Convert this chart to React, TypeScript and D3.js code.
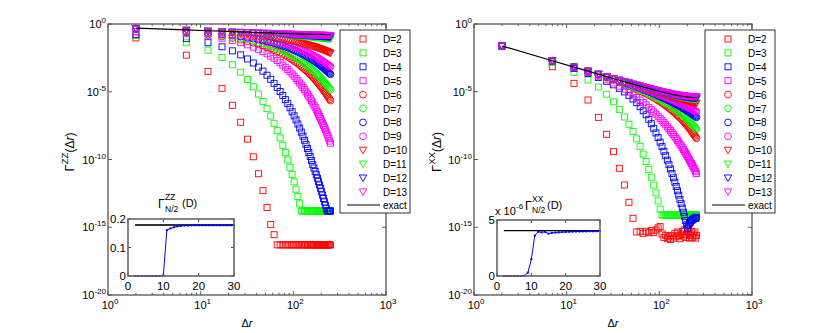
import React from 'react';
import * as d3 from 'd3';

// separation Delta r of the sampled points
const dr = [2, 7, 12, 17, 22, 27, 32, 37, 42, 47, 52, 57, 62, 67, 72, 77, 82, 87, 92, 97, 102, 107, 112, 117, 122, 127, 132, 137, 142, 147, 152, 157, 162, 167, 172, 177, 182, 187, 192, 197, 202, 207, 212, 217, 222, 227, 232, 237, 242, 247, 252];

// all correlation values below are log10 of Gamma
const zzExact = [-0.30, -0.44, -0.50, -0.53, -0.56, -0.58, -0.60, -0.62, -0.63, -0.64, -0.65, -0.66, -0.67, -0.68, -0.69, -0.69, -0.70, -0.70, -0.71, -0.72, -0.72, -0.72, -0.73, -0.73, -0.74, -0.74, -0.74, -0.75, -0.75, -0.75, -0.75, -0.76, -0.76, -0.76, -0.76, -0.77, -0.77, -0.77, -0.77, -0.77, -0.77, -0.77, -0.77, -0.78, -0.78, -0.78, -0.78, -0.78, -0.78, -0.78, -0.78];
const xxExact = [-1.62, -2.71, -3.18, -3.48, -3.70, -3.88, -4.02, -4.15, -4.26, -4.35, -4.44, -4.51, -4.58, -4.65, -4.70, -4.76, -4.81, -4.86, -4.90, -4.94, -4.98, -5.01, -5.05, -5.08, -5.11, -5.14, -5.16, -5.19, -5.21, -5.23, -5.25, -5.27, -5.29, -5.31, -5.32, -5.34, -5.35, -5.36, -5.37, -5.38, -5.39, -5.40, -5.41, -5.42, -5.42, -5.43, -5.43, -5.44, -5.44, -5.44, -5.44];

const zzD2 = [-1.03, -2.30, -3.50, -4.75, -6.00, -7.25, -8.50, -9.80, -11.05, -12.30, -13.55, -14.80, -15.55, -16.3, -16.3, -16.3, -16.3, -16.3, -16.3, -16.3, -16.3, -16.3, -16.3, -16.3, -16.3, -16.3, -16.3, -16.3, -16.3, -16.3, -16.3, -16.3, -16.3, -16.3, -16.3, -16.3, -16.3, -16.3, -16.3, -16.3, -16.3, -16.3, -16.3, -16.3, -16.3, -16.3, -16.3, -16.3, -16.3, -16.3, -16.3];
const zzD3 = [-0.85, -1.39, -1.93, -2.47, -3.01, -3.55, -4.09, -4.63, -5.17, -5.71, -6.25, -6.79, -7.33, -7.87, -8.41, -8.95, -9.49, -10.03, -10.57, -11.11, -11.65, -12.19, -12.73, -13.27, -13.8, -13.8, -13.8, -13.8, -13.8, -13.8, -13.8, -13.8, -13.8, -13.8, -13.8, -13.8, -13.8, -13.8, -13.8, -13.8, -13.8, -13.8, -13.8, -13.8, -13.8, -13.8, -13.8, -13.8, -13.8, -13.8, -13.8];
const zzD4 = [-0.78, -1.08, -1.38, -1.68, -1.98, -2.28, -2.58, -2.88, -3.18, -3.48, -3.78, -4.08, -4.38, -4.68, -4.98, -5.28, -5.58, -5.88, -6.18, -6.48, -6.78, -7.08, -7.38, -7.68, -7.98, -8.28, -8.58, -8.88, -9.18, -9.48, -9.78, -10.08, -10.38, -10.63, -10.88, -11.13, -11.38, -11.63, -11.88, -12.13, -12.38, -12.63, -12.88, -13.13, -13.38, -13.63, -13.8, -13.8, -13.8, -13.8, -13.8];
const zzD5 = [-0.55, -0.72, -0.88, -1.05, -1.21, -1.38, -1.54, -1.71, -1.87, -2.04, -2.20, -2.37, -2.53, -2.70, -2.86, -3.03, -3.19, -3.36, -3.52, -3.69, -3.85, -4.02, -4.18, -4.35, -4.51, -4.68, -4.84, -5.01, -5.17, -5.34, -5.50, -5.67, -5.83, -6.00, -6.16, -6.33, -6.49, -6.66, -6.82, -6.99, -7.15, -7.32, -7.48, -7.65, -7.81, -7.98, -8.14, -8.31, -8.47, -8.64, -8.80];
const zzD6 = [-0.40, -0.63, -0.79, -0.92, -1.04, -1.16, -1.27, -1.38, -1.49, -1.60, -1.71, -1.81, -1.92, -2.02, -2.12, -2.22, -2.33, -2.43, -2.53, -2.63, -2.73, -2.83, -2.93, -3.03, -3.13, -3.23, -3.33, -3.42, -3.52, -3.62, -3.72, -3.82, -3.92, -4.01, -4.11, -4.21, -4.30, -4.40, -4.50, -4.60, -4.69, -4.79, -4.89, -4.98, -5.08, -5.17, -5.27, -5.37, -5.46, -5.56, -5.65];
const zzD7 = [-0.38, -0.60, -0.74, -0.85, -0.96, -1.06, -1.16, -1.26, -1.35, -1.44, -1.53, -1.62, -1.71, -1.80, -1.89, -1.97, -2.06, -2.14, -2.23, -2.32, -2.40, -2.48, -2.57, -2.65, -2.74, -2.82, -2.90, -2.99, -3.07, -3.15, -3.23, -3.32, -3.40, -3.48, -3.56, -3.65, -3.73, -3.81, -3.89, -3.97, -4.05, -4.13, -4.21, -4.30, -4.38, -4.46, -4.54, -4.62, -4.70, -4.78, -4.86];
const zzD8 = [-0.36, -0.55, -0.67, -0.76, -0.85, -0.93, -1.01, -1.08, -1.15, -1.22, -1.29, -1.35, -1.42, -1.49, -1.55, -1.61, -1.68, -1.74, -1.81, -1.87, -1.93, -1.99, -2.05, -2.11, -2.18, -2.24, -2.30, -2.36, -2.42, -2.48, -2.54, -2.60, -2.66, -2.72, -2.78, -2.84, -2.90, -2.96, -3.01, -3.07, -3.13, -3.19, -3.25, -3.31, -3.37, -3.42, -3.48, -3.54, -3.60, -3.66, -3.71];
const zzD9 = [-0.35, -0.53, -0.64, -0.72, -0.80, -0.86, -0.93, -0.99, -1.05, -1.11, -1.17, -1.22, -1.28, -1.33, -1.39, -1.44, -1.49, -1.54, -1.60, -1.65, -1.70, -1.75, -1.80, -1.85, -1.90, -1.95, -2.00, -2.05, -2.10, -2.15, -2.20, -2.25, -2.30, -2.35, -2.39, -2.44, -2.49, -2.54, -2.59, -2.63, -2.68, -2.73, -2.78, -2.82, -2.87, -2.92, -2.97, -3.01, -3.06, -3.11, -3.15];
const zzD10 = [-0.33, -0.49, -0.58, -0.64, -0.70, -0.75, -0.79, -0.84, -0.88, -0.91, -0.95, -0.99, -1.02, -1.06, -1.09, -1.13, -1.16, -1.19, -1.23, -1.26, -1.29, -1.32, -1.35, -1.38, -1.41, -1.45, -1.48, -1.51, -1.54, -1.57, -1.59, -1.62, -1.65, -1.68, -1.71, -1.74, -1.77, -1.80, -1.83, -1.85, -1.88, -1.91, -1.94, -1.97, -1.99, -2.02, -2.05, -2.08, -2.10, -2.13, -2.16];
const zzD11 = [-0.33, -0.47, -0.54, -0.58, -0.61, -0.64, -0.67, -0.69, -0.71, -0.73, -0.74, -0.76, -0.77, -0.79, -0.80, -0.81, -0.83, -0.84, -0.85, -0.86, -0.87, -0.88, -0.89, -0.90, -0.91, -0.92, -0.93, -0.94, -0.95, -0.96, -0.96, -0.97, -0.98, -0.99, -1.00, -1.01, -1.01, -1.02, -1.03, -1.04, -1.04, -1.05, -1.06, -1.06, -1.07, -1.08, -1.08, -1.09, -1.10, -1.10, -1.11];
const zzD12 = [-0.33, -0.46, -0.53, -0.57, -0.60, -0.62, -0.64, -0.66, -0.68, -0.69, -0.71, -0.72, -0.73, -0.74, -0.75, -0.76, -0.77, -0.78, -0.79, -0.80, -0.81, -0.81, -0.82, -0.83, -0.83, -0.84, -0.85, -0.85, -0.86, -0.86, -0.87, -0.87, -0.88, -0.89, -0.89, -0.90, -0.90, -0.90, -0.91, -0.91, -0.92, -0.92, -0.93, -0.93, -0.93, -0.94, -0.94, -0.94, -0.95, -0.95, -0.95];
const zzD13 = [-0.32, -0.46, -0.52, -0.56, -0.58, -0.61, -0.63, -0.64, -0.66, -0.67, -0.68, -0.69, -0.70, -0.71, -0.72, -0.73, -0.74, -0.74, -0.75, -0.75, -0.76, -0.77, -0.77, -0.78, -0.78, -0.79, -0.79, -0.79, -0.80, -0.80, -0.80, -0.81, -0.81, -0.81, -0.82, -0.82, -0.82, -0.83, -0.83, -0.83, -0.83, -0.83, -0.84, -0.84, -0.84, -0.84, -0.84, -0.84, -0.85, -0.85, -0.85];

const xxD2 = [-1.65, -3.15, -4.38, -5.61, -6.89, -8.14, -9.42, -10.65, -11.88, -13.16, -14.34, -15.35, -15.30, -15.45, -15.30, -15.40, -15.25, -15.40, -15.20, -15.05, -14.95, -15.50, -15.75, -15.60, -15.85, -15.70, -15.90, -15.60, -15.80, -15.45, -15.70, -15.35, -15.60, -15.85, -15.50, -15.30, -15.65, -15.20, -15.75, -15.55, -15.10, -15.40, -15.80, -15.60, -15.30, -15.75, -15.50, -15.65, -15.35, -15.80, -15.60];
const xxD3 = [-1.65, -2.86, -3.58, -4.13, -4.65, -5.18, -5.74, -6.30, -6.86, -7.40, -7.94, -8.48, -9.03, -9.60, -10.15, -10.73, -11.31, -11.89, -12.47, -13.06, -13.66, -14.1, -14.1, -14.1, -14.1, -14.1, -14.1, -14.1, -14.1, -14.1, -14.1, -14.1, -14.1, -14.1, -14.1, -14.1, -14.1, -14.1, -14.1, -14.1, -14.1, -14.1, -14.1, -14.1, -14.1, -14.1, -14.1, -14.1, -14.1, -14.1, -14.1];
const xxD4 = [-1.63, -2.76, -3.28, -3.65, -3.95, -4.23, -4.49, -4.75, -5.01, -5.27, -5.54, -5.81, -6.10, -6.40, -6.70, -7.03, -7.36, -7.70, -8.04, -8.38, -8.72, -9.05, -9.39, -9.72, -10.05, -10.38, -10.70, -11.03, -11.35, -11.67, -11.99, -12.31, -12.63, -12.95, -13.26, -13.58, -13.89, -14.20, -14.51, -14.82, -15.05, -14.85, -14.70, -14.60, -14.50, -14.45, -14.40, -14.35, -14.30, -14.35, -14.25];
const xxD5 = [-1.62, -2.73, -3.23, -3.58, -3.86, -4.12, -4.35, -4.59, -4.81, -5.02, -5.23, -5.42, -5.61, -5.80, -5.97, -6.15, -6.32, -6.49, -6.65, -6.81, -6.97, -7.12, -7.28, -7.43, -7.58, -7.73, -7.87, -8.02, -8.16, -8.30, -8.44, -8.58, -8.72, -8.86, -8.99, -9.13, -9.26, -9.39, -9.52, -9.65, -9.78, -9.91, -10.04, -10.17, -10.29, -10.42, -10.54, -10.67, -10.79, -10.91, -11.03];
const xxD6 = [-1.62, -2.72, -3.20, -3.52, -3.77, -3.97, -4.15, -4.30, -4.45, -4.58, -4.70, -4.82, -4.94, -5.04, -5.15, -5.25, -5.35, -5.45, -5.55, -5.64, -5.74, -5.83, -5.92, -6.02, -6.11, -6.20, -6.29, -6.38, -6.47, -6.56, -6.65, -6.74, -6.83, -6.92, -7.00, -7.09, -7.18, -7.27, -7.36, -7.45, -7.54, -7.63, -7.72, -7.81, -7.90, -7.99, -8.08, -8.17, -8.26, -8.35, -8.44];
const xxD7 = [-1.62, -2.71, -3.19, -3.51, -3.75, -3.95, -4.12, -4.27, -4.40, -4.53, -4.64, -4.75, -4.86, -4.96, -5.05, -5.14, -5.23, -5.32, -5.40, -5.49, -5.57, -5.65, -5.73, -5.81, -5.88, -5.96, -6.04, -6.11, -6.19, -6.26, -6.34, -6.41, -6.48, -6.56, -6.63, -6.70, -6.77, -6.85, -6.92, -6.99, -7.06, -7.13, -7.20, -7.28, -7.35, -7.42, -7.49, -7.56, -7.63, -7.70, -7.77];
const xxD8 = [-1.62, -2.71, -3.19, -3.50, -3.73, -3.92, -4.08, -4.22, -4.35, -4.46, -4.56, -4.66, -4.75, -4.84, -4.92, -5.00, -5.07, -5.14, -5.21, -5.28, -5.35, -5.41, -5.47, -5.53, -5.59, -5.65, -5.71, -5.76, -5.82, -5.87, -5.93, -5.98, -6.03, -6.08, -6.13, -6.19, -6.24, -6.29, -6.33, -6.38, -6.43, -6.48, -6.53, -6.57, -6.62, -6.67, -6.71, -6.76, -6.80, -6.85, -6.89];
const xxD9 = [-1.62, -2.71, -3.18, -3.49, -3.72, -3.91, -4.07, -4.20, -4.32, -4.43, -4.53, -4.62, -4.70, -4.78, -4.86, -4.93, -5.00, -5.06, -5.12, -5.18, -5.24, -5.29, -5.35, -5.40, -5.45, -5.50, -5.55, -5.60, -5.64, -5.69, -5.73, -5.77, -5.82, -5.86, -5.90, -5.94, -5.98, -6.02, -6.06, -6.09, -6.13, -6.17, -6.20, -6.24, -6.27, -6.31, -6.34, -6.38, -6.41, -6.44, -6.47];
const xxD10 = [-1.62, -2.71, -3.18, -3.48, -3.71, -3.89, -4.04, -4.17, -4.28, -4.38, -4.47, -4.55, -4.63, -4.70, -4.77, -4.83, -4.88, -4.94, -4.99, -5.04, -5.08, -5.13, -5.17, -5.21, -5.24, -5.28, -5.32, -5.35, -5.38, -5.41, -5.44, -5.47, -5.50, -5.53, -5.55, -5.58, -5.60, -5.62, -5.65, -5.67, -5.69, -5.71, -5.73, -5.74, -5.76, -5.78, -5.80, -5.81, -5.83, -5.84, -5.85];
const xxD11 = [-1.62, -2.71, -3.18, -3.48, -3.70, -3.88, -4.03, -4.15, -4.26, -4.36, -4.45, -4.52, -4.60, -4.66, -4.72, -4.78, -4.83, -4.88, -4.93, -4.97, -5.01, -5.05, -5.08, -5.12, -5.15, -5.18, -5.21, -5.23, -5.26, -5.29, -5.31, -5.33, -5.35, -5.37, -5.39, -5.41, -5.42, -5.44, -5.45, -5.47, -5.48, -5.49, -5.50, -5.51, -5.52, -5.53, -5.54, -5.55, -5.55, -5.56, -5.56];
const xxD12 = [-1.62, -2.71, -3.18, -3.48, -3.70, -3.88, -4.02, -4.15, -4.26, -4.35, -4.44, -4.52, -4.59, -4.65, -4.71, -4.76, -4.81, -4.86, -4.91, -4.95, -4.99, -5.02, -5.06, -5.09, -5.12, -5.15, -5.17, -5.20, -5.22, -5.25, -5.27, -5.29, -5.30, -5.32, -5.34, -5.35, -5.37, -5.38, -5.39, -5.40, -5.42, -5.42, -5.43, -5.44, -5.45, -5.45, -5.46, -5.46, -5.47, -5.47, -5.47];
const xxD13 = [-1.62, -2.71, -3.18, -3.48, -3.70, -3.87, -4.02, -4.14, -4.25, -4.34, -4.43, -4.50, -4.57, -4.64, -4.69, -4.75, -4.79, -4.84, -4.88, -4.92, -4.96, -4.99, -5.02, -5.05, -5.08, -5.11, -5.13, -5.16, -5.18, -5.20, -5.21, -5.23, -5.25, -5.26, -5.28, -5.29, -5.30, -5.31, -5.32, -5.33, -5.34, -5.34, -5.35, -5.35, -5.36, -5.36, -5.36, -5.36, -5.36, -5.36, -5.36];

const bondDims = [2, 3, 4, 5, 6, 7, 8, 9, 10, 11, 12, 13];
const zzSeries = [zzD2, zzD3, zzD4, zzD5, zzD6, zzD7, zzD8, zzD9, zzD10, zzD11, zzD12, zzD13];
const xxSeries = [xxD2, xxD3, xxD4, xxD5, xxD6, xxD7, xxD8, xxD9, xxD10, xxD11, xxD12, xxD13];

// insets: Gamma at N/2 against bond dimension
const insetD = [2, 3, 4, 5, 6, 7, 8, 9, 10, 11, 12, 13, 14, 15, 16, 17, 18, 19, 20, 21, 22, 23, 24, 25, 26, 27, 28, 29, 30];
const zzHalf = [0, 0, 0, 0, 0, 0, 0, 0, 0.002, 0.161, 0.167, 0.171, 0.174, 0.176, 0.177, 0.177, 0.178, 0.178, 0.178, 0.178, 0.178, 0.178, 0.178, 0.178, 0.178, 0.178, 0.178, 0.178, 0.178];
const zzHalfExact = 0.179;
const xxHalf = [0, 0, 0, 0, 0, 0, 0.02, 0.3, 1.5, 3.6, 3.95, 3.9, 3.95, 3.78, 3.85, 3.88, 3.9, 3.92, 3.93, 3.95, 3.96, 3.97, 3.97, 3.98, 3.98, 3.99, 3.99, 4.0, 4.0];
const xxHalfExact = 4.05;

const yTickExps = [0, -5, -10, -15, -20];
const COLORS = ['#ff0000', '#00ff00', '#0000ff', '#ff00ff'];
const FONT = "'Liberation Sans', Arial, Helvetica, sans-serif";
const TOP = 24;
const BOTTOM = 295;

function shapeOf(D) {
  if (D <= 5) return 'square';
  if (D <= 9) return 'circle';
  return 'tri';
}

function Marker({ shape, x, y, color }) {
  const sw = 0.9;
  if (shape === 'square') {
    return <rect x={x - 3} y={y - 3} width={6} height={6} fill="none" stroke={color} strokeWidth={sw} />;
  }
  if (shape === 'circle') {
    return <circle cx={x} cy={y} r={3.4} fill="none" stroke={color} strokeWidth={sw} />;
  }
  return <path d={`M${x - 3.7},${y - 3}L${x + 3.7},${y - 3}L${x},${y + 3.6}Z`} fill="none" stroke={color} strokeWidth={sw} />;
}

function Inset({ cfg }) {
  const x = d3.scaleLinear().domain([0, 30]).range([cfg.left, cfg.right]);
  const y = d3.scaleLinear().domain([0, cfg.yMax]).range([cfg.bottom, cfg.top]);
  const line = d3.line().x((d) => x(d[0])).y((d) => y(d[1]));
  const pts = insetD.map((D, i) => [D, cfg.values[i]]);
  return (
    <g fontFamily={FONT}>
      <rect x={cfg.left} y={cfg.top} width={cfg.right - cfg.left} height={cfg.bottom - cfg.top} fill="#fff" />
      <path d={line([[2, cfg.exact], [30, cfg.exact]])} stroke={cfg.exactColor} strokeWidth={cfg.exactWidth} fill="none" />
      <path d={line(pts)} stroke="#0000ff" strokeWidth={1} fill="none" />
      {pts.map((p, i) => (
        <rect key={i} x={x(p[0]) - 1} y={y(p[1]) - 1} width={2} height={2} fill="#0000ff" />
      ))}
      {[0, 10, 20, 30].map((t) => (
        <g key={t}>
          <line x1={x(t)} x2={x(t)} y1={cfg.bottom} y2={cfg.bottom - 3} stroke="#444" />
          <line x1={x(t)} x2={x(t)} y1={cfg.top} y2={cfg.top + 3} stroke="#444" />
          <text x={x(t)} y={cfg.bottom + 14} textAnchor="middle" fontSize={11.5}>{t}</text>
        </g>
      ))}
      {cfg.yTicks.map((t) => (
        <g key={t}>
          <line x1={cfg.left} x2={cfg.left + 3} y1={y(t)} y2={y(t)} stroke="#444" />
          <line x1={cfg.right} x2={cfg.right - 3} y1={y(t)} y2={y(t)} stroke="#444" />
          <text x={cfg.left - 2} y={y(t) + 4} textAnchor="end" fontSize={11.5}>{cfg.fmt(t)}</text>
        </g>
      ))}
      <rect x={cfg.left} y={cfg.top} width={cfg.right - cfg.left} height={cfg.bottom - cfg.top} fill="none" stroke="#666" strokeWidth={1.6} />
      {cfg.title}
    </g>
  );
}

function Panel({ cfg }) {
  const x = d3.scaleLog().domain([1, 1000]).range([cfg.left, cfg.right]);
  const y = d3.scaleLog().domain([1e-20, 1]).range([BOTTOM, TOP]);
  const line = d3.line().x((d) => x(d[0])).y((d) => y(d[1]));
  const xTicks = x.ticks();
  const isMajor = (t) => Math.abs(Math.log10(t) - Math.round(Math.log10(t))) < 1e-9;
  const lx = cfg.legendX;

  return (
    <g fontFamily={FONT}>
      {cfg.series.map((s, k) => (
        <g key={k}>
          {s.map((v, i) => (
            <Marker key={i} shape={shapeOf(bondDims[k])} x={x(dr[i])} y={y(Math.pow(10, v))} color={COLORS[k % 4]} />
          ))}
        </g>
      ))}
      <path d={line(dr.map((r, i) => [r, Math.pow(10, cfg.exact[i])]))} fill="none" stroke="#000" strokeWidth={1.2} />

      {xTicks.map((t, i) => {
        const len = isMajor(t) ? 4 : 2.2;
        return (
          <g key={i}>
            <line x1={x(t)} x2={x(t)} y1={BOTTOM} y2={BOTTOM - len} stroke="#333" strokeWidth={0.8} />
            <line x1={x(t)} x2={x(t)} y1={TOP} y2={TOP + len} stroke="#333" strokeWidth={0.8} />
          </g>
        );
      })}
      {xTicks.filter(isMajor).map((t, i) => (
        <text key={i} x={x(t) + 2} y={BOTTOM + 14} textAnchor="middle" fontSize={11}>
          <tspan>10</tspan>
          <tspan dy={-5} fontSize={8}>{Math.round(Math.log10(t))}</tspan>
        </text>
      ))}
      {yTickExps.map((e) => (
        <g key={e}>
          <line x1={cfg.left} x2={cfg.left + 4} y1={y(Math.pow(10, e))} y2={y(Math.pow(10, e))} stroke="#333" strokeWidth={0.8} />
          <line x1={cfg.right} x2={cfg.right - 4} y1={y(Math.pow(10, e))} y2={y(Math.pow(10, e))} stroke="#333" strokeWidth={0.8} />
          <text x={cfg.left - 2} y={y(Math.pow(10, e)) + 4} textAnchor="end" fontSize={11}>
            <tspan>10</tspan>
            <tspan dy={-5} fontSize={8}>{e === 0 ? '0' : `-${-e}`}</tspan>
          </text>
        </g>
      ))}
      <rect x={cfg.left} y={TOP} width={cfg.right - cfg.left} height={BOTTOM - TOP} fill="none" stroke="#555" strokeWidth={1.3} />

      <text x={cfg.xLabelX} y={327} textAnchor="middle" fontSize={11}>
        Δ<tspan fontStyle="italic">r</tspan>
      </text>
      <text transform={`translate(${cfg.yLabelX},152) rotate(-90)`} textAnchor="middle" fontSize={12}>
        <tspan fontSize={13}>Γ</tspan>
        <tspan dy={-6} fontSize={9.5}>{cfg.sup}</tspan>
        <tspan dy={6}>(Δ</tspan>
        <tspan fontStyle="italic">r</tspan>
        <tspan>)</tspan>
      </text>

      <Inset cfg={cfg.inset} />

      <rect x={lx} y={30} width={70} height={183} fill="#fff" stroke="#333" strokeWidth={1} />
      {bondDims.map((D, k) => {
        const yy = 39 + k * 13.9;
        return (
          <g key={D}>
            <Marker shape={shapeOf(D)} x={lx + 23} y={yy} color={COLORS[k % 4]} />
            <text x={lx + 43} y={yy + 4} fontSize={10}>{`D=${D}`}</text>
          </g>
        );
      })}
      <line x1={lx + 7} x2={lx + 40} y1={205} y2={205} stroke="#000" strokeWidth={1.2} />
      <text x={lx + 43} y={209} fontSize={10}>exact</text>
    </g>
  );
}

const zzTitle = (
  <g>
    <text x={158} y={208} fontSize={12}>Γ</text>
    <text x={165} y={200} fontSize={8.5}>ZZ</text>
    <text x={165} y={212} fontSize={8.5}>N/2</text>
    <text x={182} y={207} fontSize={11}>(D)</text>
  </g>
);

const xxTitle = (
  <g>
    <text x={495} y={215} fontSize={11}>x 10</text>
    <text x={516} y={209} fontSize={8}>-6</text>
    <text x={525} y={210} fontSize={12}>Γ</text>
    <text x={532} y={202} fontSize={8.5}>XX</text>
    <text x={532} y={213} fontSize={8.5}>N/2</text>
    <text x={547} y={209} fontSize={11}>(D)</text>
  </g>
);

const leftCfg = {
  left: 108, right: 386, legendX: 340, xLabelX: 247, yLabelX: 74, sup: 'ZZ',
  series: zzSeries, exact: zzExact,
  inset: {
    left: 128, right: 234, top: 219, bottom: 276, yMax: 0.2, yTicks: [0, 0.1, 0.2],
    fmt: (t) => (t === 0 ? '0' : t.toFixed(1)), values: zzHalf, exact: zzHalfExact,
    exactColor: '#333', exactWidth: 2, title: zzTitle,
  },
};

const rightCfg = {
  left: 474, right: 752, legendX: 705, xLabelX: 613, yLabelX: 441, sup: 'XX',
  series: xxSeries, exact: xxExact,
  inset: {
    left: 497, right: 600, top: 220, bottom: 276, yMax: 5, yTicks: [0, 5],
    fmt: (t) => String(t), values: xxHalf, exact: xxHalfExact,
    exactColor: '#000', exactWidth: 1.2, title: xxTitle,
  },
};

export default function App() {
  return (
    <svg width={830} height={333} style={{ position: 'absolute', left: 0, top: 0, background: '#fff' }}>
      <Panel cfg={leftCfg} />
      <Panel cfg={rightCfg} />
    </svg>
  );
}
